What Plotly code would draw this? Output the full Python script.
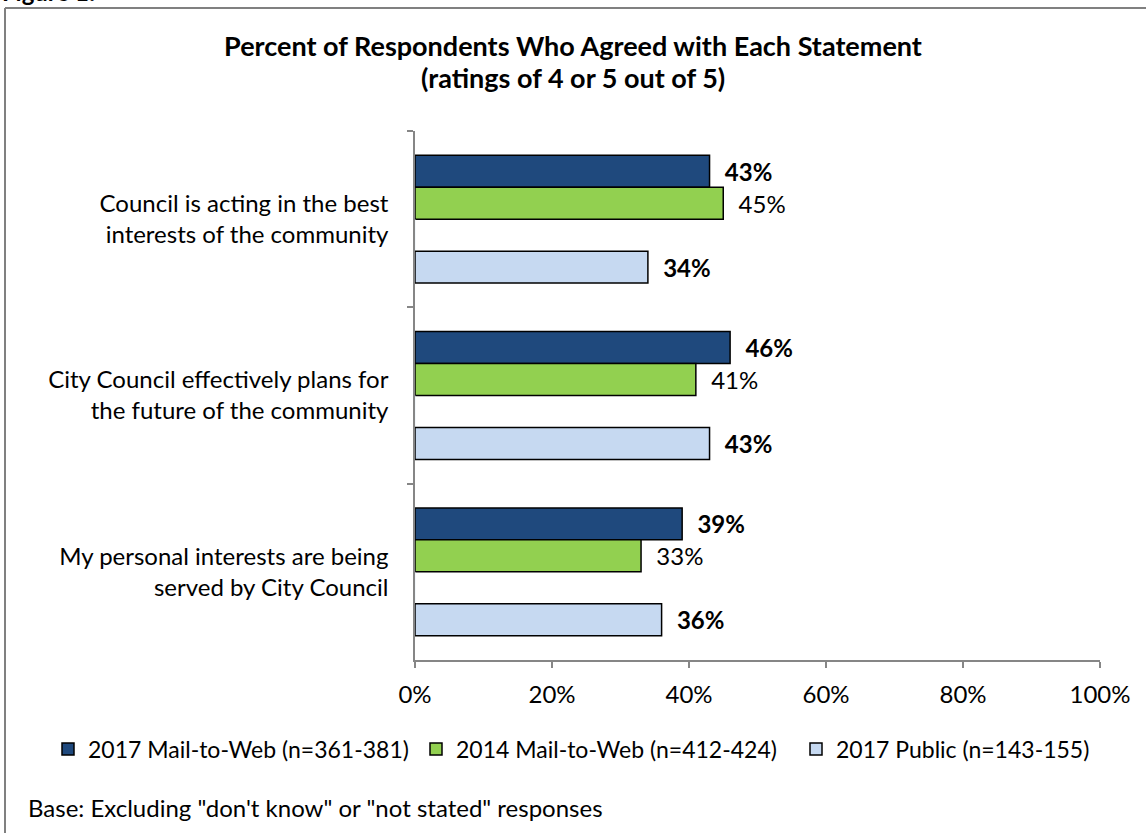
import plotly.graph_objects as go

# Survey statements (top to bottom)
statements = [
    "Council is acting in the best<br>interests of the community",
    "City Council effectively plans for<br>the future of the community",
    "My personal interests are being<br>served by City Council",
]

# Percent agreeing (ratings of 4 or 5 out of 5)
mail_web_2017 = [43, 46, 39]
mail_web_2014 = [45, 41, 33]
public_2017 = [34, 43, 36]

series_names = [
    "2017 Mail-to-Web (n=361-381)",
    "2014 Mail-to-Web (n=412-424)",
    "2017 Public (n=143-155)",
]

x_ticks = [0, 20, 40, 60, 80, 100]
x_tick_labels = ["0%", "20%", "40%", "60%", "80%", "100%"]

FONT = "Lato"
FS = 24
PAD = "\u00a0\u00a0"

W, H = 1146, 833
L, R, T, B = 415, 46, 131, 173
PW, PH = W - L - R, H - T - B


def px_to_paper_x(px):
    return (px - L) / PW


def px_to_paper_y(py):
    return (H - B - py) / PH


def bar(name, values, color, bold, legend):
    if bold:
        labels = [f"{PAD}<b>{v}%</b>" for v in values]
    else:
        labels = [f"{PAD}{v}%" for v in values]
    return go.Bar(
        name=name,
        y=statements,
        x=values,
        orientation="h",
        marker=dict(color=color, line=dict(color="#000000", width=1.5)),
        text=labels,
        textposition="outside",
        textfont=dict(family=FONT, size=FS, color="#000000"),
        cliponaxis=False,
        legend=legend,
        hoverinfo="x+name",
    )


fig = go.Figure()
fig.add_trace(bar(series_names[0], mail_web_2017, "#1F497D", True, "legend"))
fig.add_trace(bar(series_names[1], mail_web_2014, "#92D050", False, "legend2"))
# empty slot keeps the gap between the Mail-to-Web pair and the Public bar
fig.add_trace(go.Bar(name="", y=statements, x=[0, 0, 0], orientation="h",
                     marker=dict(color="rgba(0,0,0,0)"), showlegend=False,
                     hoverinfo="skip"))
fig.add_trace(bar(series_names[2], public_2017, "#C6D9F1", True, "legend3"))


def legend_box(left_px):
    return dict(
        orientation="h",
        x=px_to_paper_x(left_px),
        xanchor="left",
        y=px_to_paper_y(749),
        yanchor="middle",
        font=dict(family=FONT, size=23, color="#000000"),
        itemwidth=30,
        bgcolor="rgba(0,0,0,0)",
    )


fig.update_layout(
    width=W,
    height=H,
    margin=dict(l=L, r=R, t=T, b=B),
    paper_bgcolor="#FFFFFF",
    plot_bgcolor="#FFFFFF",
    barmode="group",
    bargap=0.275,
    bargroupgap=0,
    font=dict(family=FONT, size=FS, color="#000000"),
    showlegend=True,
    legend=legend_box(48),
    legend2=legend_box(416),
    legend3=legend_box(796),
    xaxis=dict(
        range=[0, 100],
        tickvals=x_ticks,
        ticktext=x_tick_labels,
        showgrid=False,
        zeroline=False,
        showline=True,
        linecolor="#868686",
        linewidth=1.5,
        ticks="outside",
        ticklen=6,
        tickcolor="#868686",
        tickwidth=1.5,
        ticklabelstandoff=6,
        tickfont=dict(family=FONT, size=FS, color="#000000"),
        fixedrange=True,
    ),
    yaxis=dict(
        autorange="reversed",
        showgrid=False,
        showline=True,
        linecolor="#868686",
        linewidth=1.5,
        ticks="outside",
        tickson="boundaries",
        ticklen=6,
        tickcolor="#868686",
        tickwidth=1.5,
        ticklabelstandoff=20,
        tickfont=dict(family=FONT, size=FS, color="#000000"),
        fixedrange=True,
    ),
    title=dict(
        text="<b>Percent of Respondents Who Agreed with Each Statement</b>",
        x=0.5,
        xanchor="center",
        xref="container",
        y=1 - 47 / H,
        yanchor="middle",
        yref="container",
        font=dict(family=FONT, size=27, color="#000000"),
    ),
    shapes=[
        # frame around the figure (top and left edges visible)
        dict(type="line", xref="paper", yref="paper",
             x0=px_to_paper_x(5), x1=px_to_paper_x(1150),
             y0=px_to_paper_y(8), y1=px_to_paper_y(8),
             line=dict(color="#808080", width=2)),
        dict(type="line", xref="paper", yref="paper",
             x0=px_to_paper_x(5), x1=px_to_paper_x(5),
             y0=px_to_paper_y(8), y1=px_to_paper_y(840),
             line=dict(color="#808080", width=2)),
    ],
    annotations=[
        dict(text="<b>(ratings of 4 or 5 out of 5)</b>", xref="paper",
             yref="paper", x=px_to_paper_x(W / 2), y=px_to_paper_y(78),
             xanchor="center", yanchor="middle", showarrow=False,
             font=dict(family=FONT, size=27, color="#000000")),
        dict(text="<b>Figure 1:</b>", xref="paper", yref="paper",
             x=px_to_paper_x(0), y=px_to_paper_y(8), xanchor="left",
             yanchor="bottom", showarrow=False,
             font=dict(family=FONT, size=FS, color="#000000")),
        dict(text='Base: Excluding "don\'t know" or "not stated" responses',
             xref="paper", yref="paper",
             x=px_to_paper_x(26), y=px_to_paper_y(807), xanchor="left",
             yanchor="middle", showarrow=False,
             font=dict(family=FONT, size=FS, color="#000000")),
    ],
)

fig.write_html("out.html")
